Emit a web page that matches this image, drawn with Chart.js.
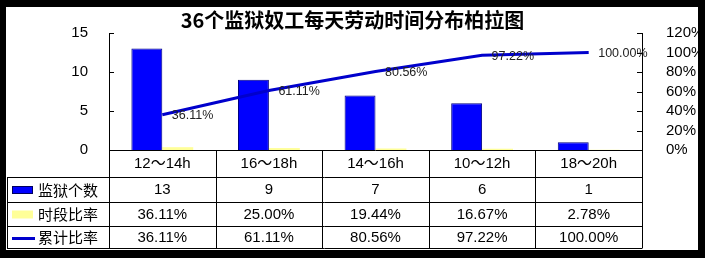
<!DOCTYPE html>
<html><head><meta charset="utf-8">
<script src="https://cdn.jsdelivr.net/npm/chart.js@4"></script>
<style>html,body{margin:0;padding:0;background:#000;}canvas{display:block}</style>
</head><body>
<canvas id="c" width="705" height="258"></canvas>
<script>
const chartTitle = '36个监狱奴工每天劳动时间分布柏拉图';
const categories = ['12～14h','16～18h','14～16h','10～12h','18～20h'];
const seriesNames = ['监狱个数','时段比率','累计比率'];
const prisonCounts = [13, 9, 7, 6, 1];
const periodRatios = [0.3611, 0.2500, 0.1944, 0.1667, 0.0278];
const cumulativeRatios = [36.11, 61.11, 80.56, 97.22, 100.00];
const countTicks = [0, 5, 10, 15];
const percentTicks = [0, 20, 40, 60, 80, 100, 120];

const BLUE = '#0000FF', YELLOW = '#FFFF99', LINE = '#0000CC';
const NUM_FONT = "'Liberation Sans', Arial, 'Noto Sans CJK SC', sans-serif";
const CJK_FONT = "'Noto Sans CJK SC', sans-serif";
const pct = v => v.toFixed(2) + '%';

const framePlugin = {
  id: 'frame',
  beforeDraw(chart) {
    const ctx = chart.ctx;
    ctx.save();
    ctx.fillStyle = '#000';
    ctx.fillRect(0, 0, chart.width, chart.height);
    ctx.fillStyle = '#fff';
    ctx.fillRect(6, 7, 692, 243);
    ctx.restore();
  }
};

const labelPlugin = {
  id: 'lineLabels',
  afterDatasetsDraw(chart) {
    const ctx = chart.ctx;
    const meta = chart.getDatasetMeta(2);
    ctx.save();
    ctx.font = '12.5px ' + NUM_FONT;
    ctx.fillStyle = '#222';
    ctx.textAlign = 'left';
    ctx.textBaseline = 'middle';
    meta.data.forEach((pt, i) => {
      ctx.fillText(pct(cumulativeRatios[i]), pt.x + 9.5, pt.y + 1);
    });
    ctx.restore();
  }
};

const tablePlugin = {
  id: 'dataTable',
  afterDraw(chart) {
    const ctx = chart.ctx;
    const ca = chart.chartArea;
    const xs = chart.scales.x;
    const ys = chart.scales.y, y1 = chart.scales.y1;
    const n = categories.length;
    const cw = (ca.right - ca.left) / n;
    ctx.save();
    ctx.strokeStyle = '#000';
    ctx.lineWidth = 1;
    // inside tick marks
    ctx.beginPath();
    ys.ticks.forEach(t => { const y = Math.round(ys.getPixelForValue(t.value)) + 0.5; ctx.moveTo(ca.left, y); ctx.lineTo(ca.left + 5, y); });
    y1.ticks.forEach(t => { const y = Math.round(y1.getPixelForValue(t.value)) + 0.5; ctx.moveTo(ca.right - 5, y); ctx.lineTo(ca.right, y); });
    ctx.stroke();

    const rowsY = [ca.bottom, 177, 202, 226, 248];
    const leftX = 7;
    ctx.beginPath();
    ctx.moveTo(ca.left, Math.round(rowsY[0]) + 0.5); ctx.lineTo(ca.right, Math.round(rowsY[0]) + 0.5);
    for (let r = 1; r < rowsY.length; r++) {
      ctx.moveTo(leftX, rowsY[r] + 0.5); ctx.lineTo(ca.right, rowsY[r] + 0.5);
    }
    for (let i = 0; i <= n; i++) {
      const x = Math.round(ca.left + i * cw) + 0.5;
      ctx.moveTo(x, rowsY[0]); ctx.lineTo(x, rowsY[4] + 0.5);
    }
    ctx.moveTo(leftX + 0.5, rowsY[1]); ctx.lineTo(leftX + 0.5, rowsY[4] + 0.5);
    ctx.stroke();

    ctx.fillStyle = '#000';
    ctx.textAlign = 'center';
    ctx.textBaseline = 'middle';
    ctx.font = '15px ' + NUM_FONT;
    const centers = [];
    for (let r = 0; r < 4; r++) centers.push((rowsY[r] + rowsY[r + 1]) / 2 + 0.5);
    const rows = [
      categories,
      prisonCounts.map(v => String(v)),
      periodRatios.map(v => pct(v * 100)),
      cumulativeRatios.map(v => pct(v))
    ];
    rows.forEach((row, r) => {
      row.forEach((txt, i) => {
        ctx.fillText(txt, xs.getPixelForValue(i), centers[r]);
      });
    });

    // legend keys
    ctx.textAlign = 'left';
    ctx.font = '15px ' + CJK_FONT;
    seriesNames.forEach((name, k) => {
      const cy = centers[k + 1];
      if (k === 0) {
        ctx.fillStyle = BLUE; ctx.fillRect(12, cy - 4, 21, 8);
        ctx.strokeStyle = '#000060'; ctx.strokeRect(12.5, cy - 3.5, 20, 7);
      } else if (k === 1) {
        ctx.fillStyle = YELLOW; ctx.fillRect(12, cy - 4, 21, 8);
      } else {
        ctx.strokeStyle = LINE; ctx.lineWidth = 3;
        ctx.beginPath(); ctx.moveTo(12, cy + 1); ctx.lineTo(35, cy + 1); ctx.stroke();
        ctx.lineWidth = 1;
      }
      ctx.fillStyle = '#000';
      ctx.fillText(name, 38, cy);
    });
    ctx.restore();
  }
};

new Chart(document.getElementById('c'), {
  data: {
    labels: categories,
    datasets: [
      { type: 'bar', label: seriesNames[0], data: prisonCounts, backgroundColor: BLUE, borderColor: '#000080', borderWidth: 1, yAxisID: 'y', order: 2, categoryPercentage: 0.58, barPercentage: 1.0 },
      { type: 'bar', label: seriesNames[1], data: periodRatios, backgroundColor: YELLOW, borderWidth: 0, yAxisID: 'y', order: 2, categoryPercentage: 0.58, barPercentage: 1.0 },
      { type: 'line', label: seriesNames[2], data: cumulativeRatios, borderColor: LINE, borderWidth: 3, pointRadius: 0, tension: 0, fill: false, yAxisID: 'y1', order: 0 }
    ]
  },
  options: {
    responsive: false,
    devicePixelRatio: 1,
    animation: false,
    layout: { padding: { left: 0, right: 0, top: 0, bottom: 108 } },
    plugins: {
      legend: { display: false },
      tooltip: { enabled: false },
      title: { display: true, text: chartTitle, color: '#000', font: { family: CJK_FONT, size: 20, weight: 'bold' }, padding: { top: 8.5, bottom: 0.5 } }
    },
    scales: {
      x: { display: false, offset: true },
      y: {
        position: 'left', min: 0, max: 15,
        afterBuildTicks: s => { s.ticks = countTicks.map(v => ({ value: v })); },
        afterFit: s => { s.width = 109; },
        grid: { display: false },
        border: { display: true, color: '#000', width: 1 },
        ticks: { autoSkip: false, padding: 13, color: '#000', font: { family: NUM_FONT, size: 15 } }
      },
      y1: {
        position: 'right', min: 0, max: 120,
        afterBuildTicks: s => { s.ticks = percentTicks.map(v => ({ value: v })); },
        afterFit: s => { s.width = 63; },
        grid: { display: false },
        border: { display: true, color: '#000', width: 1 },
        ticks: { autoSkip: false, padding: 16, color: '#000', font: { family: NUM_FONT, size: 15 }, callback: v => v + '%' }
      }
    }
  },
  plugins: [framePlugin, labelPlugin, tablePlugin]
});
</script>
</body></html>
